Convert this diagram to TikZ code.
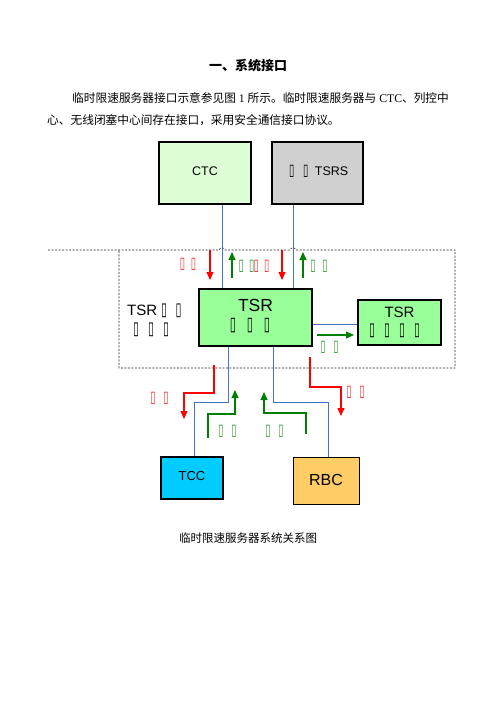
\documentclass[tikz,border=0pt]{standalone}
\usepackage{fontspec}
\usepackage{graphicx}
\setmainfont{Liberation Sans}
\newfontfamily\cjk{Noto Sans CJK SC}
\newfontfamily\djv{DejaVu Sans}
\newfontfamily\lser{Liberation Serif}
\usetikzlibrary{arrows.meta}
\newcommand\tfb[2]{\makebox[#1pt]{\scalebox{0.6}[1]{\djv\fontsize{#2}{#2}\selectfont ▯}}}
\definecolor{blu}{HTML}{4472C4}
\definecolor{ctcfill}{HTML}{DDFFD6}
\definecolor{tsrsfill}{HTML}{D0D0D0}
\definecolor{tsrfill}{HTML}{99FF99}
\definecolor{tccfill}{HTML}{00CCFF}
\definecolor{rbcfill}{HTML}{FFCC66}
\definecolor{grn}{HTML}{008000}
\tikzset{
  box/.style={draw=black, line width=1.6pt, inner sep=0pt},
  bl/.style={draw=blu, line width=0.9pt},
  rarr/.style={draw=red, line width=1.1pt, -{Triangle[width=7pt,length=8pt]}},
  garr/.style={draw=grn, line width=1.1pt, -{Triangle[width=7pt,length=8pt]}},
  rlab/.style={text=red!85, inner sep=0pt},
  glab/.style={text=grn!80, inner sep=0pt},
  bdr/.style={draw=black!85, line width=0.6pt, dash pattern=on 2pt off 1.5pt},
  lbl/.style={inner sep=0pt}
}
\begin{document}
\begin{tikzpicture}[x=1pt,y=-1pt]
\useasboundingbox[fill=white] (0,0) rectangle (496,702);
% title and paragraph
\node[lbl, font=\cjk\bfseries\fontsize{13}{13}\selectfont] (title) at (248,66) {一、系统接口};
\node[lbl, anchor=west, font=\cjk\fontsize{11.7}{11.7}\selectfont] (p1) at (72,98) {临时限速服务器接口示意参见图{\lser\ 1 }所示。临时限速服务器与{\lser\ CTC}、列控中};
\node[lbl, anchor=west, font=\cjk\fontsize{11.7}{11.7}\selectfont] (p2) at (47,120) {心、无线闭塞中心间存在接口，采用安全通信接口协议。};
% boundary
\draw[bdr] (48,250) -- (219,250) .. controls (220,247) and (224,247) .. (225,250) -- (290,250) .. controls (291,247) and (295,247) .. (296,250) -- (455,250) -- (455,368) -- (119,368) -- (119,250);
% boxes
\node[box, fill=ctcfill, minimum width=92pt, minimum height=62pt] (ctc) at (205,173) {};
\node[box, fill=tsrsfill, minimum width=91pt, minimum height=62pt] (tsrs) at (317.5,173) {};
\node[box, fill=tsrfill, minimum width=113pt, minimum height=57pt] (tsr) at (255.5,317.5) {};
\node[box, fill=tsrfill, minimum width=83pt, minimum height=45pt] (tsr2) at (399.5,322.5) {};
\node[box, line width=2.6pt, fill=tccfill, minimum width=62pt, minimum height=42pt] (tcc) at (192,478) {};
\node[box, line width=0.8pt, fill=rbcfill, minimum width=66pt, minimum height=47pt] (rbc) at (326,480.5) {};
% box texts
\node[lbl, font=\fontsize{12.5}{12.5}\selectfont] (ctct) at (205,171) {CTC};
\node[lbl, font=\fontsize{12.5}{12.5}\selectfont] (tsrst) at (316.5,171) {\tfb{14}{16}\tfb{14}{16}\,TSRS};
\node[lbl, font=\fontsize{17.5}{17.5}\selectfont] (tsrt) at (255.5,305.5) {TSR};
\node[lbl] (tsrt2) at (250,326) {\tfb{17}{19}\tfb{17}{19}\tfb{17}{19}};
\node[lbl, font=\fontsize{15}{15}\selectfont] (tsr2t) at (399.5,312) {TSR};
\node[lbl] (tsr2t2) at (394.5,330.5) {\tfb{15}{18}\tfb{15}{18}\tfb{15}{18}\tfb{15}{18}};
\node[lbl, font=\fontsize{13}{13}\selectfont] (tcct) at (192,476) {TCC};
\node[lbl, font=\fontsize{16}{16}\selectfont] (rbct) at (326,480) {RBC};
\node[lbl, anchor=west, font=\fontsize{15}{15}\selectfont] (bnd1) at (127,311) {TSR\tfb{14}{18}\tfb{15}{18}};
\node[lbl] (bnd2) at (151,329.5) {\tfb{15}{18}\tfb{15}{18}\tfb{15}{18}};
% blue connectors
\coordinate (xa) at (222,0);
\coordinate (xb) at (293,0);
\coordinate (xc) at (228,0);
\coordinate (xd) at (273,0);
\coordinate (xe) at (194,0);
\coordinate (xf) at (328,0);
\coordinate (yg) at (0,324);
\draw[bl] (ctc.south -| xa) -- (tsr.north -| xa);
\draw[bl] (tsrs.south -| xb) -- (tsr.north -| xb);
\draw[bl] (tsr.south -| xc) -- ++(0,56) -| (tcc.north -| xe);
\draw[bl] (tsr.south -| xd) -- ++(0,56) -| (rbc.north -| xf);
\draw[bl] (tsr.east |- yg) -- (tsr2.west |- yg);
% arrows
\draw[rarr] (210,250) -- (210,280);
\draw[garr] (232,278) -- (232,252);
\draw[rarr] (282,250) -- (282,280);
\draw[garr] (303,278) -- (303,252);
\draw[garr] (317,335) -- (354,335);
\draw[rarr] (214,365) -- (214,393) -- (184,393) -- (184,419);
\draw[rarr] (310,357) -- (310,387) -- (341,387) -- (341,416);
\draw[garr] (208,438) -- (208,414) -- (235,414) -- (235,390);
\draw[garr] (306,434) -- (306,413) -- (264,413) -- (264,392);
% arrow labels
\node[rlab] (r1) at (188,264) {\tfb{11}{16}\tfb{11}{16}};
\node[glab] (g1) at (246.5,266) {\tfb{10.5}{16}\tfb{10.5}{16}};
\node[rlab] (r2) at (261.5,266) {\tfb{10.5}{16}\tfb{10.5}{16}};
\node[glab] (g2) at (319,266) {\tfb{12}{16}\tfb{12}{16}};
\node[glab] (g3) at (329.5,347) {\tfb{13}{16}\tfb{13}{16}};
\node[rlab] (r3) at (159.5,398) {\tfb{13}{16}\tfb{13}{16}};
\node[rlab] (r4) at (355.5,392) {\tfb{13}{16}\tfb{13}{16}};
\node[glab] (g4) at (227.5,431) {\tfb{13}{16}\tfb{13}{16}};
\node[glab] (g5) at (274.5,431) {\tfb{13}{16}\tfb{13}{16}};
% caption
\node[lbl, font=\cjk\fontsize{11.5}{11.5}\selectfont] (cap) at (248,538) {临时限速服务器系统关系图};
\end{tikzpicture}
\end{document}
